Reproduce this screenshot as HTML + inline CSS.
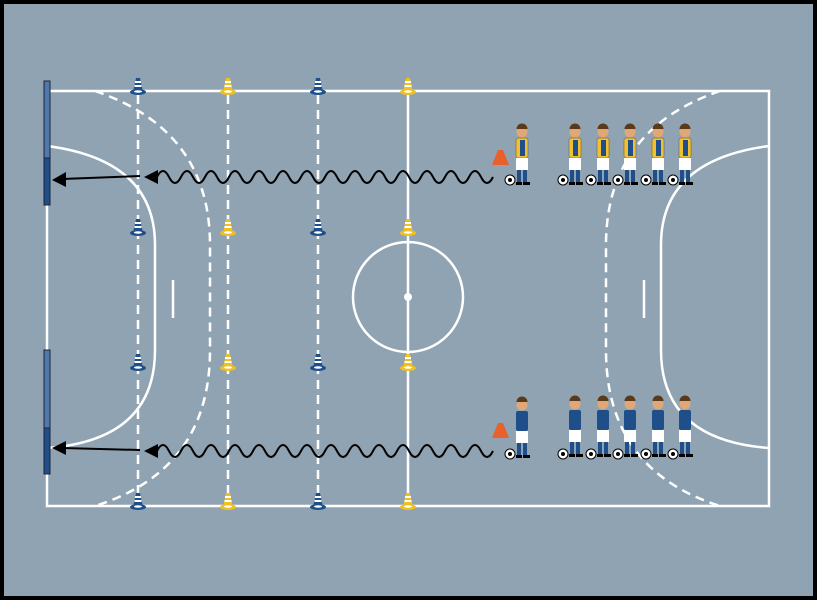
<!DOCTYPE html><html><head><style>body{margin:0}svg{display:block}</style></head><body>
<svg width="817" height="600" viewBox="0 0 817 600" xmlns="http://www.w3.org/2000/svg">
<defs>
<g id="cb"><path d="M-5 4 L-2 -10 L2 -10 L5 4Z" fill="#1f4f8a"/><path d="M-3.5 -2 h7 M-3 -6 h6" stroke="#fff" stroke-width="2"/><ellipse cx="0" cy="4" rx="8" ry="3" fill="#1f4f8a"/><ellipse cx="0" cy="3.5" rx="4" ry="1.3" fill="#fff"/></g>
<g id="cy"><path d="M-5 4 L-2 -10 L2 -10 L5 4Z" fill="#f0c020"/><path d="M-3.5 -2 h7 M-3 -6 h6" stroke="#fff" stroke-width="2"/><ellipse cx="0" cy="4" rx="8" ry="3" fill="#f0c020"/><ellipse cx="0" cy="3.5" rx="4" ry="1.3" fill="#fff"/></g>
<g id="ball"><circle r="5" fill="#fff" stroke="#000" stroke-width="1"/><circle r="2" fill="#000"/></g>
<g id="py"><circle cx="0" cy="-52" r="5.5" fill="#e0a878"/><path d="M-5.5 -55 a5.5 5.5 0 0 1 11 0z" fill="#5a3a1a"/><rect x="-6" y="-46" width="12" height="20" rx="2" fill="#f0c030" stroke="#555" stroke-width="0.5"/><rect x="-2" y="-44" width="5" height="16" fill="#1f4f8a"/><rect x="-6" y="-26" width="12" height="12" fill="#fff"/><rect x="-5" y="-14" width="4" height="12" fill="#1f4f8a"/><rect x="1" y="-14" width="4" height="12" fill="#1f4f8a"/><rect x="-6" y="-2" width="6" height="3" fill="#000"/><rect x="1" y="-2" width="7" height="3" fill="#000"/></g>
<g id="pb"><circle cx="0" cy="-52" r="5.5" fill="#e0a878"/><path d="M-5.5 -55 a5.5 5.5 0 0 1 11 0z" fill="#5a3a1a"/><rect x="-6" y="-46" width="12" height="20" rx="2" fill="#1f4f8a"/><rect x="-6" y="-26" width="12" height="12" fill="#fff"/><rect x="-5" y="-14" width="4" height="12" fill="#1f4f8a"/><rect x="1" y="-14" width="4" height="12" fill="#1f4f8a"/><rect x="-6" y="-2" width="6" height="3" fill="#000"/><rect x="1" y="-2" width="7" height="3" fill="#000"/></g>
</defs>
<rect x="0" y="0" width="817" height="600" fill="#000"/>
<rect x="4" y="4" width="809" height="592" fill="#8fa3b3"/>
<g fill="none" stroke="#fff" stroke-width="2.5">
<rect x="47" y="91" width="722" height="415"/>
<line x1="408" y1="91" x2="408" y2="506"/>
<circle cx="408" cy="297" r="55"/>
<path d="M47 146 Q155 160 155 245 L155 350 Q155 440 47 448"/>
<path d="M769 146 Q661 160 661 245 L661 350 Q661 440 769 448"/>
<line x1="173" y1="280" x2="173" y2="318"/><line x1="644" y1="280" x2="644" y2="318"/>
</g>
<circle cx="408" cy="297" r="4" fill="#fff"/>
<g fill="none" stroke="#fff" stroke-width="2.5" stroke-dasharray="9 6">
<path d="M95 91 Q210 130 210 245 L210 350 Q210 470 95 506"/>
<path d="M720 91 Q606 130 606 245 L606 350 Q606 470 720 506"/>
<line x1="138" y1="95" x2="138" y2="502"/><line x1="228" y1="95" x2="228" y2="502"/><line x1="318" y1="95" x2="318" y2="502"/>
</g>
<g stroke="#223" stroke-width="1"><rect x="44" y="81" width="6" height="77" fill="#4f7ab0"/><rect x="44" y="158" width="6" height="47" fill="#1d4f8a"/>
<rect x="44" y="350" width="6" height="78" fill="#4f7ab0"/><rect x="44" y="428" width="6" height="46" fill="#1d4f8a"/></g>
<use href="#cb" x="138" y="88"/><use href="#cy" x="228" y="88"/><use href="#cb" x="318" y="88"/><use href="#cy" x="408" y="88"/>
<use href="#cb" x="138" y="229"/><use href="#cy" x="228" y="229"/><use href="#cb" x="318" y="229"/><use href="#cy" x="408" y="229"/>
<use href="#cb" x="138" y="364"/><use href="#cy" x="228" y="364"/><use href="#cb" x="318" y="364"/><use href="#cy" x="408" y="364"/>
<use href="#cb" x="138" y="503"/><use href="#cy" x="228" y="503"/><use href="#cb" x="318" y="503"/><use href="#cy" x="408" y="503"/>
<g stroke="#000" stroke-width="2" fill="none">
<line x1="140" y1="176" x2="62" y2="179"/><line x1="140" y1="450" x2="62" y2="448"/>
<path d="M157 177 q6 -12 12 0 t12 0 t12 0 t12 0 t12 0 t12 0 t12 0 t12 0 t12 0 t12 0 t12 0 t12 0 t12 0 t12 0 t12 0 t12 0 t12 0 t12 0 t12 0 t12 0 t12 0 t12 0 t12 0 t12 0 t12 0 t12 0 t12 0 t12 0"/>
<path d="M157 451 q6 -12 12 0 t12 0 t12 0 t12 0 t12 0 t12 0 t12 0 t12 0 t12 0 t12 0 t12 0 t12 0 t12 0 t12 0 t12 0 t12 0 t12 0 t12 0 t12 0 t12 0 t12 0 t12 0 t12 0 t12 0 t12 0 t12 0 t12 0 t12 0"/>
</g>
<g fill="#000"><path d="M52 180 L66 172 L66 187Z"/><path d="M52 448 L66 441 L66 455Z"/>
<path d="M144 177 L158 170 L158 184Z"/><path d="M144 451 L158 444 L158 458Z"/></g>
<path d="M492 165 L498 150 L503 150 L509 165Z" fill="#e8602a"/><path d="M492 438 L498 423 L503 423 L509 438Z" fill="#e8602a"/>
<use href="#py" x="522" y="184"/><use href="#pb" x="522" y="457"/>
<g><use href="#py" x="575" y="184"/><use href="#py" x="603" y="184"/><use href="#py" x="630" y="184"/><use href="#py" x="658" y="184"/><use href="#py" x="685" y="184"/></g>
<g><use href="#pb" x="575" y="456"/><use href="#pb" x="603" y="456"/><use href="#pb" x="630" y="456"/><use href="#pb" x="658" y="456"/><use href="#pb" x="685" y="456"/></g>
<use href="#ball" x="510" y="180"/><use href="#ball" x="563" y="180"/><use href="#ball" x="591" y="180"/><use href="#ball" x="618" y="180"/><use href="#ball" x="646" y="180"/><use href="#ball" x="673" y="180"/>
<use href="#ball" x="510" y="454"/><use href="#ball" x="563" y="454"/><use href="#ball" x="591" y="454"/><use href="#ball" x="618" y="454"/><use href="#ball" x="646" y="454"/><use href="#ball" x="673" y="454"/>
</svg></body></html>
